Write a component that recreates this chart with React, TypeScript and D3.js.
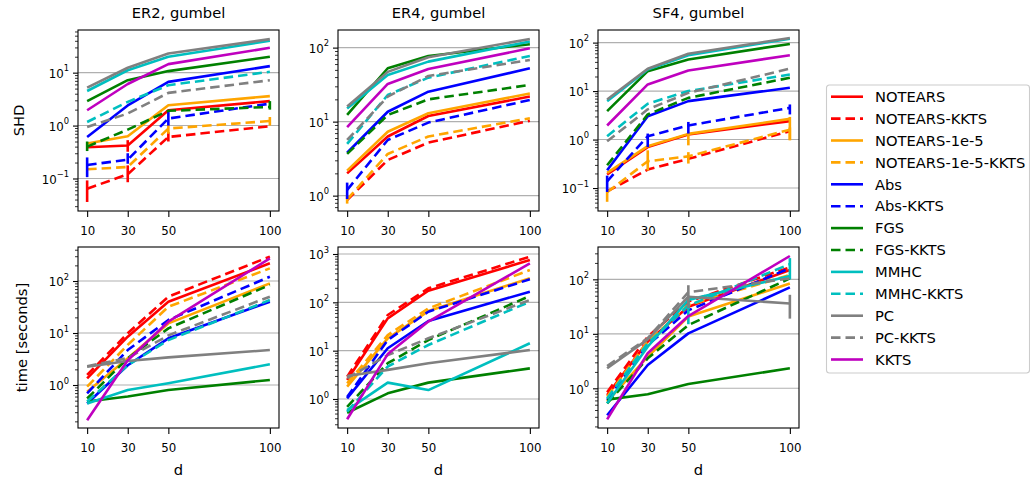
import { useRef, useEffect } from 'react';
import * as d3 from 'd3';

// x values (graph size d)
const dims = [10, 30, 50, 100];

const methods = [
  'NOTEARS', 'NOTEARS-KKTS', 'NOTEARS-1e-5', 'NOTEARS-1e-5-KKTS',
  'Abs', 'Abs-KKTS', 'FGS', 'FGS-KKTS', 'MMHC', 'MMHC-KKTS', 'PC', 'PC-KKTS', 'KKTS',
];
const colors = [
  '#ff0000', '#ff0000', '#ffa500', '#ffa500', '#0000ff', '#0000ff',
  '#008000', '#008000', '#00bfbf', '#00bfbf', '#808080', '#808080', '#bf00bf',
];
const dashed = [false, true, false, true, false, true, false, true, false, true, false, true, false];

const colTitles = ['ER2, gumbel', 'ER4, gumbel', 'SF4, gumbel'];
const rowLabels = ['SHD', 'time [seconds]'];
const xTicks = [10, 30, 50, 100];

// one row per method, in the order of `methods`
const shdER2 = [
  [0.39, 0.42, 1.95, 2.9],
  [0.064, 0.12, 0.61, 0.97],
  [0.46, 0.63, 2.43, 3.6],
  [0.149, 0.165, 0.88, 1.22],
  [0.61, 2.4, 6.7, 13.3],
  [0.18, 0.227, 1.36, 2.6],
  [2.9, 7.2, 10.7, 20],
  [0.4, 0.84, 1.9, 2.25],
  [4.5, 11.1, 20, 40],
  [1.17, 2.8, 5.8, 10.4],
  [5.2, 12.4, 23, 43],
  [0.94, 1.69, 4.15, 7.2],
  [1.95, 6.1, 14.5, 29.5],
];
const shdER4 = [
  [2.0, 6.3, 11.9, 21.8],
  [0.87, 3.03, 5.2, 10.3],
  [2.18, 7.3, 13, 24],
  [0.89, 3.66, 6.3, 11.1],
  [3.8, 13.6, 25.4, 52.6],
  [1.19, 5.65, 9.7, 19.6],
  [12.3, 52.6, 77, 111],
  [3.66, 12.3, 20, 31.3],
  [15.1, 42.7, 64.7, 121],
  [5.0, 22.9, 39.3, 77],
  [16, 47, 74, 131],
  [5.65, 21.8, 41.4, 68],
  [8.4, 32.3, 51.5, 98],
];
const shdSF4 = [
  [0.19, 0.7, 1.27, 2.4],
  [0.085, 0.24, 0.4, 1.49],
  [0.205, 0.73, 1.31, 2.67],
  [0.082, 0.357, 0.45, 1.6],
  [0.233, 3.03, 6.2, 11.7],
  [0.138, 1.17, 1.95, 4.5],
  [3.85, 25.8, 44.9, 94],
  [0.295, 3.3, 7.25, 18.8],
  [6.2, 27.9, 55, 120],
  [1.17, 5.5, 10, 22],
  [6.7, 29, 58.7, 125],
  [0.92, 4.2, 9.2, 29],
  [1.95, 13.7, 26.6, 55],
];
const timeER2 = [
  [1.34, 8.5, 40, 219],
  [1.56, 9.9, 50, 294],
  [0.745, 3.26, 15.3, 90],
  [0.93, 5.9, 32, 175],
  [0.44, 2.4, 7.9, 40],
  [0.69, 4.7, 17.8, 121],
  [0.48, 0.6, 0.8, 1.25],
  [0.55, 3.26, 12.3, 84],
  [0.44, 0.8, 1.08, 2.5],
  [0.48, 2.4, 7.3, 43],
  [2.25, 2.9, 3.4, 4.7],
  [2.3, 3.3, 9, 50],
  [0.21, 3.0, 16.5, 273],
];
const timeER4 = [
  [2.47, 46.6, 174, 751],
  [2.9, 54.7, 195, 880],
  [1.8, 18, 66, 314],
  [2.1, 21, 75, 465],
  [1.03, 11.2, 41, 166],
  [1.1, 16.6, 64, 300],
  [0.52, 1.31, 2.18, 4.3],
  [0.69, 5.5, 16.6, 135],
  [0.59, 2.18, 1.53, 14.2],
  [0.55, 4.7, 13.1, 103],
  [3.0, 4.0, 5.5, 10.3],
  [2.7, 8.1, 18, 112],
  [0.38, 8.5, 40, 641],
];
const timeSF4 = [
  [0.75, 7.2, 31.5, 148],
  [0.85, 8.9, 39, 166],
  [0.57, 3.8, 20.7, 84],
  [0.7, 7.2, 33.8, 120],
  [0.32, 2.68, 10.2, 71],
  [0.61, 6.2, 27, 160],
  [0.62, 0.78, 1.2, 2.33],
  [0.53, 3.55, 14.5, 104],
  [0.53, 5.8, 42, 115],
  [0.65, 6.7, 33, 190],
  [2.33, 7.9, 48, 36],
  [2.57, 8.3, 58, 104],
  [0.27, 4.4, 21.2, 268],
];

// [panel, method, d, low, high]
const errorBars: [number, string, number, number, number][] = [
  [0, 'NOTEARS-KKTS', 10, 0.036, 0.092],
  [0, 'NOTEARS-KKTS', 30, 0.085, 0.177],
  [0, 'NOTEARS-KKTS', 50, 0.5, 0.75],
  [0, 'Abs-KKTS', 10, 0.106, 0.25],
  [0, 'Abs-KKTS', 30, 0.19, 0.3],
  [0, 'Abs-KKTS', 50, 1.0, 1.9],
  [0, 'NOTEARS', 30, 0.32, 0.53],
  [0, 'NOTEARS-1e-5-KKTS', 50, 0.7, 1.05],
  [0, 'NOTEARS-1e-5-KKTS', 100, 1.0, 1.45],
  [0, 'FGS-KKTS', 10, 0.33, 0.5],
  [0, 'FGS-KKTS', 100, 2.0, 2.9],
  [1, 'Abs-KKTS', 10, 0.9, 1.5],
  [1, 'NOTEARS-1e-5-KKTS', 10, 0.78, 1.0],
  [2, 'Abs-KKTS', 10, 0.083, 0.18],
  [2, 'NOTEARS-1e-5-KKTS', 10, 0.052, 0.083],
  [2, 'Abs-KKTS', 30, 0.7, 1.33],
  [2, 'NOTEARS-1e-5-KKTS', 30, 0.23, 0.6],
  [2, 'Abs-KKTS', 50, 1.33, 2.31],
  [2, 'NOTEARS-1e-5', 50, 0.76, 1.33],
  [2, 'NOTEARS-1e-5-KKTS', 50, 0.32, 0.55],
  [2, 'Abs-KKTS', 100, 3.3, 5.3],
  [2, 'NOTEARS-1e-5', 100, 0.97, 2.93],
  [2, 'NOTEARS-1e-5-KKTS', 100, 0.97, 1.78],
  [5, 'PC', 100, 19, 52],
  [5, 'PC-KKTS', 50, 30, 78],
  [5, 'MMHC', 50, 15, 50],
  [5, 'MMHC', 100, 100, 245],
];

const panelData = [shdER2, shdER4, shdSF4, timeER2, timeER4, timeSF4];
const yLimits: [number, number][] = [
  [0.0243, 64], [0.62, 173], [0.0336, 182],
  [0.149, 451], [0.251, 1396], [0.187, 392],
];

const FONT = 'DejaVu Sans, sans-serif';

function Chart() {
  const ref = useRef<SVGSVGElement | null>(null);

  useEffect(() => {
    const el = ref.current;
    if (!el) return;
    const svg = d3.select(el);
    svg.selectAll('*').remove();

    const colLeft = [78, 338, 598];
    const rowTop = [30, 247];
    const pw = 201;
    const ph = 181;

    panelData.forEach((data, p) => {
      const r = Math.floor(p / 3);
      const c = p % 3;
      const g = svg.append('g').attr('transform', `translate(${colLeft[c]},${rowTop[r]})`);

      const x = d3.scaleLinear().domain([5.5, 104.5]).range([0, pw]);
      const y = d3.scaleLog().domain(yLimits[p]).range([ph, 0]);

      const [lo, hi] = yLimits[p];
      const majors: number[] = [];
      const minors: number[] = [];
      for (let k = Math.floor(Math.log10(lo)); k <= Math.ceil(Math.log10(hi)); k++) {
        const base = Math.pow(10, k);
        if (base >= lo && base <= hi) majors.push(base);
        for (let m = 2; m <= 9; m++) {
          const v = m * base;
          if (v >= lo && v <= hi) minors.push(v);
        }
      }

      // grid
      g.append('g')
        .selectAll('line')
        .data(majors)
        .join('line')
        .attr('x1', 0).attr('x2', pw)
        .attr('y1', (d) => y(d)).attr('y2', (d) => y(d))
        .attr('stroke', '#b0b0b0')
        .attr('stroke-width', 1.1);

      const clipId = `clip-${p}`;
      g.append('clipPath').attr('id', clipId)
        .append('rect').attr('width', pw).attr('height', ph);

      const plot = g.append('g').attr('clip-path', `url(#${clipId})`);

      const line = d3.line<number>()
        .x((_, i) => x(dims[i]))
        .y((d) => y(d));

      data.forEach((vals, m) => {
        const bars = errorBars.filter((e) => e[0] === p && e[1] === methods[m]);
        plot.append('g')
          .selectAll('line')
          .data(bars)
          .join('line')
          .attr('x1', (d) => x(d[2])).attr('x2', (d) => x(d[2]))
          .attr('y1', (d) => y(d[3])).attr('y2', (d) => y(d[4]))
          .attr('stroke', colors[m])
          .attr('stroke-width', 2.6);

        plot.append('path')
          .attr('d', line(vals))
          .attr('fill', 'none')
          .attr('stroke', colors[m])
          .attr('stroke-width', 2.6)
          .attr('stroke-linejoin', 'round')
          .attr('stroke-dasharray', dashed[m] ? '9.5,5' : null);
      });

      // frame
      g.append('rect')
        .attr('width', pw).attr('height', ph)
        .attr('fill', 'none')
        .attr('stroke', 'black')
        .attr('stroke-width', 1.1);

      // x axis
      const xAxis = g.append('g')
        .attr('transform', `translate(0,${ph})`)
        .call(d3.axisBottom(x).tickValues(xTicks).tickSize(6).tickPadding(9.5));
      xAxis.select('.domain').remove();
      xAxis.selectAll('line').attr('stroke-width', 1.1);
      xAxis.selectAll('text')
        .attr('font-family', FONT)
        .attr('font-size', 11.8)
        .attr('fill', 'black');

      // y axis: minor then major ticks
      const yMinor = g.append('g')
        .call(d3.axisLeft(y).tickValues(minors).tickSize(3).tickFormat(() => ''));
      yMinor.select('.domain').remove();
      yMinor.selectAll('line').attr('stroke-width', 0.8);

      const yMajor = g.append('g')
        .call(d3.axisLeft(y).tickValues(majors).tickSize(5).tickFormat(() => ''));
      yMajor.select('.domain').remove();
      yMajor.selectAll('line').attr('stroke-width', 1.1);

      const labels = g.append('g')
        .selectAll('text')
        .data(majors)
        .join('text')
        .attr('x', -9)
        .attr('y', (d) => y(d) + 5.2)
        .attr('text-anchor', 'end')
        .attr('font-family', FONT)
        .attr('font-size', 11.8)
        .attr('fill', 'black');
      labels.append('tspan').text('10');
      labels.append('tspan')
        .attr('font-size', 8.4)
        .attr('dy', -6.4)
        .text((d) => {
          const e = Math.round(Math.log10(d));
          return e < 0 ? `\u2212${-e}` : `${e}`;
        });

      if (r === 0) {
        g.append('text')
          .attr('x', pw / 2)
          .attr('y', -12.5)
          .attr('text-anchor', 'middle')
          .attr('font-family', FONT)
          .attr('font-size', 14.7)
          .text(colTitles[c]);
      } else {
        g.append('text')
          .attr('x', pw / 2)
          .attr('y', ph + 47)
          .attr('text-anchor', 'middle')
          .attr('font-family', FONT)
          .attr('font-size', 14.7)
          .text('d');
      }
      if (c === 0) {
        const lx = (r === 0 ? 23.5 : 27) - colLeft[0];
        g.append('text')
          .attr('transform', `translate(${lx},${ph / 2}) rotate(-90)`)
          .attr('text-anchor', 'middle')
          .attr('font-family', FONT)
          .attr('font-size', 14.7)
          .text(rowLabels[r]);
      }
    });

    // legend
    const leg = svg.append('g').attr('transform', 'translate(826.5,85)');
    leg.append('rect')
      .attr('width', 203).attr('height', 288)
      .attr('rx', 3)
      .attr('fill', 'white')
      .attr('stroke', '#cccccc')
      .attr('stroke-width', 1.1);
    const items = leg.selectAll('g.item')
      .data(methods)
      .join('g')
      .attr('class', 'item')
      .attr('transform', (_, i) => `translate(0,${11.7 + i * 21.9})`);
    items.append('line')
      .attr('x1', 4.5).attr('x2', 36.5)
      .attr('stroke', (_, i) => colors[i])
      .attr('stroke-width', 2.6)
      .attr('stroke-dasharray', (_, i) => (dashed[i] ? '9.5,5' : null));
    items.append('text')
      .attr('x', 48.5)
      .attr('y', 5.2)
      .attr('font-family', FONT)
      .attr('font-size', 14.7)
      .text((d) => d);
  }, []);

  return (
    <svg
      ref={ref}
      width={1030}
      height={479}
      style={{ position: 'absolute', left: 0, top: 0, background: 'white' }}
    />
  );
}

export default function App() {
  return <Chart />;
}
